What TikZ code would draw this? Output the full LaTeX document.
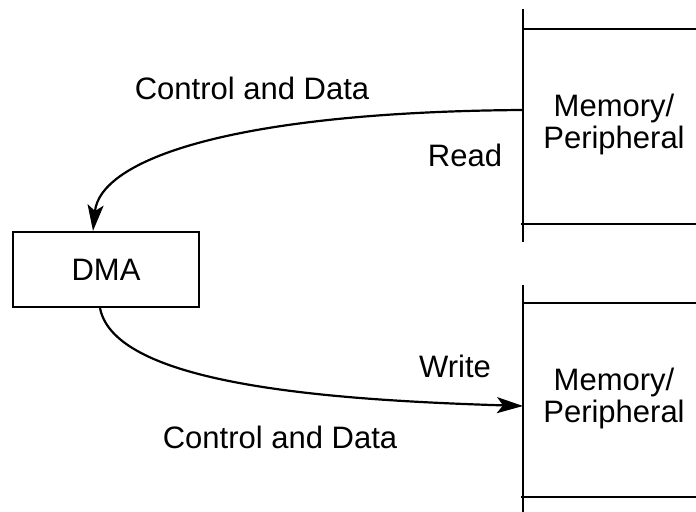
\documentclass[tikz,border=0pt]{standalone}
\usepackage{fontspec}
\setmainfont{Liberation Sans}
\usetikzlibrary{positioning,arrows.meta}

\begin{document}
\begin{tikzpicture}[
    x=0.5pt, y=-0.5pt,
    every node/.style={font=\fontsize{15.5}{16}\selectfont},
    box/.style={draw, line width=1.1pt, rectangle, minimum width=93pt, minimum height=37.5pt},
    mem/.style={align=center},
    edge/.style={line width=1.1pt},
    arrow/.style={-{Stealth[length=13pt, width=8pt, inset=3pt]}, line width=1.1pt}
]
\useasboundingbox (0,0) rectangle (696,512);

% DMA controller
\node[box] (dma) at (106,269.5) {DMA};

% Memory blocks (open to the right)
\node[mem] (mem1) at (614,124) {Memory/\\Peripheral};
\node[mem] (mem2) at (614,398) {Memory/\\Peripheral};

\draw[edge] (523,9) -- (523,242);
\draw[edge] (523,29) -- (696,29);
\draw[edge] (521,224) -- (696,224);
\draw[edge] (523,285) -- (523,512);
\draw[edge] (523,303) -- (696,303);
\draw[edge] (521,497) -- (696,497);

% Ports
\coordinate (rd) at (523,110);
\coordinate (wr) at (523,406);

% Transfers
\draw[arrow] (rd) .. controls (230,112) and (100,160) .. (dma.north -| 93,0);
\draw[arrow] (dma.south -| 100,0) .. controls (115,385) and (330,400) .. (wr);

% Labels
\node (cd1) at (252,88) {Control and Data};
\node (read) at (465,155) {Read};
\node (write) at (455,366) {Write};
\node (cd2) at (280,437) {Control and Data};

\end{tikzpicture}
\end{document}
